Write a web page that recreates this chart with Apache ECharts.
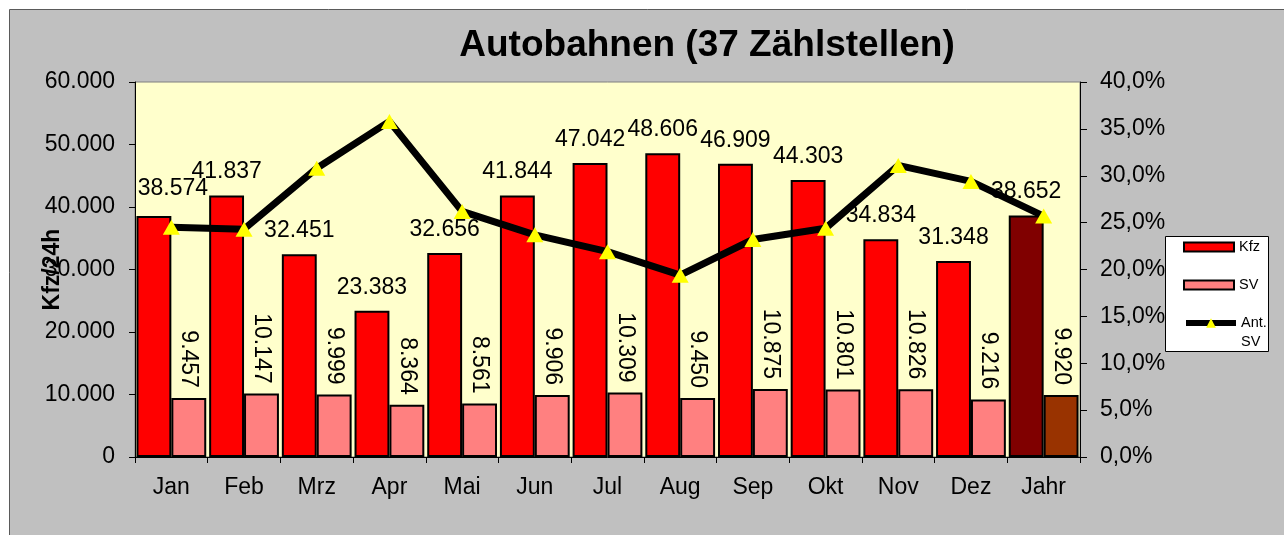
<!DOCTYPE html>
<html>
<head>
<meta charset="utf-8">
<script src="https://cdn.jsdelivr.net/npm/echarts@6/dist/echarts.min.js"></script>
<style>
html,body{margin:0;padding:0;background:#fff;}
#c{width:1284px;height:535px;}
</style>
</head>
<body>
<div id="c"></div>
<script>
const categories = ['Jan','Feb','Mrz','Apr','Mai','Jun','Jul','Aug','Sep','Okt','Nov','Dez','Jahr'];
const kfz = [38574,41837,32451,23383,32656,41844,47042,48606,46909,44303,34834,31348,38652];
const sv = [9457,10147,9999,8364,8561,9906,10309,9450,10875,10801,10826,9216,9920];
const antSV = [24.5,24.3,30.8,35.8,26.2,23.7,21.9,19.4,23.2,24.4,31.1,29.4,25.7];
const leftTicks = [0,10000,20000,30000,40000,50000,60000];
const rightTicks = [0,5,10,15,20,25,30,35,40];

const FONT = '"Liberation Sans", Arial, sans-serif';
function fmt(v){ return String(v).replace(/\B(?=(\d{3})+(?!\d))/g,'.'); }

const last = categories.length - 1;
const kfzData = kfz.map((v,i)=>{
  const d = {value:v};
  if(i===last) d.itemStyle = {color:'#800000'};
  if(i===0) d.label = {offset:[19,-4]};
  return d;
});
const svData = sv.map((v,i)=>{
  const d = {value:v};
  if(i===last) d.itemStyle = {color:'#993300'};
  return d;
});

const legendText = {fontFamily:FONT,fontSize:14.5,lineHeight:19,color:'#000'};

const chart = echarts.init(document.getElementById('c'));
chart.setOption({
  backgroundColor:'#fff',
  animation:false,
  textStyle:{fontFamily:FONT},
  graphic:[{
    type:'rect', silent:true, z:-10,
    shape:{x:9.5,y:9.5,width:1400,height:700},
    style:{fill:'#C0C0C0',stroke:'#5a5a5a',lineWidth:1}
  },{
    type:'rect', silent:true, z:0,
    shape:{x:1165.5,y:236.5,width:103,height:115},
    style:{fill:'#fff',stroke:'#000',lineWidth:1}
  }],
  title:{
    text:'Autobahnen (37 Zählstellen)',
    left:702, top:22, textAlign:'center',
    textStyle:{fontFamily:FONT,fontSize:37,fontWeight:'bold',color:'#000'}
  },
  legend:[{
    orient:'vertical',
    left:1183, top:237.5,
    padding:0,
    itemGap:19,
    itemWidth:50, itemHeight:9,
    textStyle:legendText,
    data:[
      {name:'Kfz', icon:'rect'},
      {name:'SV', icon:'rect'}
    ]
  },{
    orient:'vertical',
    left:1183, top:294.5,
    padding:0,
    itemWidth:50, itemHeight:12,
    textStyle:legendText,
    lineStyle:{width:6,color:'#000'},
    data:[{name:'Ant. SV'}],
    formatter:function(n){ return ' \nAnt.\nSV'; }
  }],
  grid:{
    left:135, right:204, top:82, bottom:78,
    show:true, backgroundColor:'#FFFFCC', borderColor:'#808080', borderWidth:1
  },
  xAxis:{
    type:'category', data:categories,
    axisLine:{lineStyle:{color:'#000',width:1}},
    axisTick:{show:true,length:6,alignWithLabel:false,lineStyle:{color:'#000'}},
    axisLabel:{fontFamily:FONT,fontSize:23,color:'#000',margin:19},
    splitLine:{show:false}
  },
  yAxis:[{
    type:'value', min:0, max:60000, interval:10000,
    name:'Kfz/24h', nameLocation:'middle', nameGap:71, nameRotate:90,
    nameMoveOverlap:false,
    nameTextStyle:{fontFamily:FONT,fontSize:23,fontWeight:'bold',color:'#000'},
    axisLine:{show:true,lineStyle:{color:'#000'}},
    axisTick:{show:true,length:6,lineStyle:{color:'#000'}},
    axisLabel:{fontFamily:FONT,fontSize:23,color:'#000',margin:20,
      formatter:function(v){ return fmt(v); }},
    splitLine:{show:false}
  },{
    type:'value', min:0, max:40, interval:5,
    position:'right',
    axisLine:{show:true,lineStyle:{color:'#000'}},
    axisTick:{show:true,length:7,inside:false,lineStyle:{color:'#000'}},
    axisLabel:{fontFamily:FONT,fontSize:23,color:'#000',margin:20,
      formatter:function(v){ return v.toFixed(1).replace('.',',')+'%'; }},
    splitLine:{show:false}
  }],
  series:[{
    name:'Kfz', type:'bar', data:kfzData,
    barGap:'0%', barCategoryGap:'4%',
    itemStyle:{color:'#FF0000',borderColor:'#000',borderWidth:2},
    label:{show:true,position:'top',distance:12,fontFamily:FONT,fontSize:23,color:'#000',
      formatter:function(p){ return fmt(p.value); }}
  },{
    name:'SV', type:'bar', data:svData,
    itemStyle:{color:'#FF8080',borderColor:'#000',borderWidth:2},
    label:{show:true,position:'top',distance:7,rotate:-90,align:'right',verticalAlign:'middle',
      fontFamily:FONT,fontSize:23,color:'#000',offset:[-3,0],
      formatter:function(p){ return fmt(p.value); }}
  },{
    name:'Ant. SV', type:'line', yAxisIndex:1, data:antSV,
    z:5,
    lineStyle:{color:'#000',width:7},
    itemStyle:{color:'#FFFF00',borderWidth:0},
    symbol:'triangle', symbolSize:[17,15],
    showAllSymbol:true
  }]
});
</script>
</body>
</html>
